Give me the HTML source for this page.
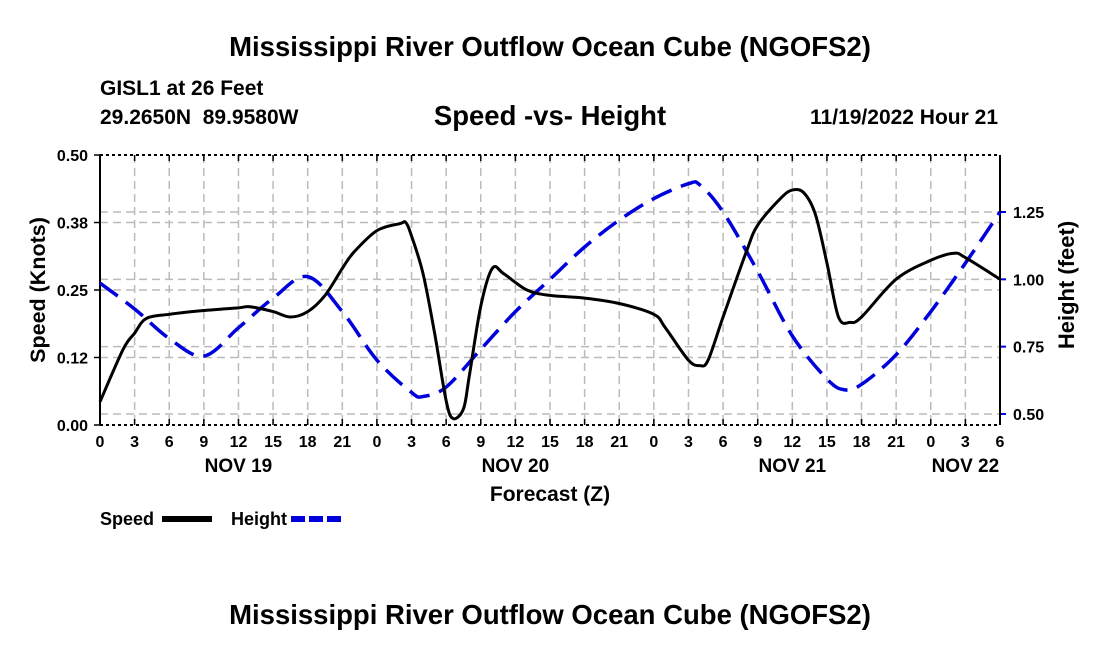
<!DOCTYPE html>
<html><head><meta charset="utf-8"><style>
body{margin:0;background:#fff}
svg{display:block;font-family:"Liberation Sans",Arial,sans-serif;font-weight:bold}
</style></head><body>
<svg id="chart" width="1100" height="650" viewBox="0 0 1100 650">
<text x="550" y="56" text-anchor="middle" font-size="27.5">Mississippi River Outflow Ocean Cube (NGOFS2)</text>
<text x="100" y="95" font-size="21">GISL1 at 26 Feet</text>
<text x="100" y="124" font-size="21" xml:space="preserve">29.2650N  89.9580W</text>
<text x="550" y="125" text-anchor="middle" font-size="27.5">Speed -vs- Height</text>
<text x="998" y="124" text-anchor="end" font-size="21">11/19/2022 Hour 21</text>
<g id="grid"></g>
<g id="axes"></g>
<g id="series"></g>
<text transform="translate(45,290) rotate(-90)" text-anchor="middle" font-size="21.5">Speed (Knots)</text>
<text transform="translate(1074,285) rotate(-90)" text-anchor="middle" font-size="22">Height (feet)</text>
<text x="550" y="501" text-anchor="middle" font-size="21">Forecast (Z)</text>
<g>
<text x="100" y="525" font-size="18">Speed</text>
<rect x="162" y="516" width="50" height="6" fill="#000"/>
<text x="231" y="525" font-size="18">Height</text>
<line x1="291" y1="519" x2="342" y2="519" stroke="#0000dd" stroke-width="6" stroke-dasharray="14,4"/>
</g>
<text x="550" y="624" text-anchor="middle" font-size="27.5">Mississippi River Outflow Ocean Cube (NGOFS2)</text>
</svg>
<script>
const speedHours=[0,2,3,4,6,9,12,13,15,16.5,18,19.5,21,22,24,26,26.5,27,28,29,30,30.6,31.5,32,33,34,35,37,39,42,45,48,49,51,52,52.7,54,56,57,59,60,61,62,63,64,65,66,69,72,74,75,78];
const speedValues=[0.043,0.14,0.17,0.197,0.205,0.212,0.217,0.219,0.21,0.2,0.21,0.24,0.29,0.32,0.36,0.373,0.375,0.35,0.28,0.17,0.045,0.012,0.03,0.09,0.22,0.29,0.28,0.25,0.24,0.235,0.225,0.205,0.18,0.12,0.11,0.12,0.2,0.32,0.37,0.42,0.435,0.43,0.39,0.3,0.2,0.19,0.2,0.27,0.305,0.318,0.31,0.27];
const heightHours=[0,3,6,9,12,15,18,21,24,27,28,30,33,36,39,42,45,48,51,52,54,57,60,63,64.5,66,69,72,75,78];
const heightValues=[0.986,0.89,0.78,0.715,0.82,0.93,1.01,0.88,0.7,0.58,0.565,0.6,0.74,0.88,1.0,1.12,1.22,1.3,1.355,1.35,1.25,1.03,0.79,0.63,0.59,0.61,0.72,0.88,1.06,1.25];
const xTickLabels=["0","3","6","9","12","15","18","21","0","3","6","9","12","15","18","21","0","3","6","9","12","15","18","21","0","3","6"];
const dayLabels=["NOV 19","NOV 20","NOV 21","NOV 22"];
const dayHours=[12,36,60,75];
const speedTicks=[0,0.125,0.25,0.375,0.5];
const speedTickLabels=["0.00","0.12","0.25","0.38","0.50"];
const heightTicks=[0.5,0.75,1.0,1.25];
const heightTickLabels=["0.50","0.75","1.00","1.25"];

const X0=100,X1=1000,YT=155,YB=425;
const xs=h=>X0+h*(X1-X0)/78;
const ys=v=>YB-v*(YB-YT)/0.5;
const yh=v=>212-(v-1.25)*269.3;
const NS="http://www.w3.org/2000/svg";
function mk(tag,attrs,parent){const e=document.createElementNS(NS,tag);for(const k in attrs)e.setAttribute(k,attrs[k]);parent.appendChild(e);return e;}
const grid=document.getElementById('grid'),axes=document.getElementById('axes'),series=document.getElementById('series');
const gs={stroke:"#bbb","stroke-width":1.5,"stroke-dasharray":"8,5",fill:"none"};
xTickLabels.forEach((l,i)=>{const x=xs(i*3);
 const g=mk('line',Object.assign({x1:x,x2:x,y1:YT,y2:YB},gs),grid);
 
 
 const t=mk('line',{x1:x,x2:x,y1:YB,y2:YB-6,stroke:"#000","stroke-width":1.5},axes);
 
 
 const t2=mk('line',{x1:x,x2:x,y1:YT,y2:YT+6,stroke:"#000","stroke-width":1.5},axes);
 
 
 const tx=mk('text',{x:x,y:YB+22,"text-anchor":"middle","font-size":16},axes);tx.textContent=l;
 
 
});
dayLabels.forEach((l,i)=>{const t=mk('text',{x:xs(dayHours[i]),y:YB+47,"text-anchor":"middle","font-size":19},axes);t.textContent=l;
 
 });
speedTicks.forEach((v,i)=>{const y=ys(v);
 if(v>0&&v<0.5){const g=mk('line',Object.assign({x1:X0,x2:X1,y1:y,y2:y},gs),grid);
  
  }
 const t=mk('line',{x1:X0-6,x2:X0,y1:y,y2:y,stroke:"#000","stroke-width":1.5},axes);
 
 
 const tx=mk('text',{x:X0-12,y:y+6,"text-anchor":"end","font-size":16},axes);tx.textContent=speedTickLabels[i];
 
 
});
heightTicks.forEach((v,i)=>{const y=yh(v);
 const g=mk('line',Object.assign({x1:X0,x2:X1,y1:y,y2:y},gs),grid);
 
 
 const t=mk('line',{x1:X1,x2:X1+6,y1:y,y2:y,stroke:"#0000dd","stroke-width":2},axes);
 
 
 const tx=mk('text',{x:X1+13,y:y+6,"font-size":16},axes);tx.textContent=heightTickLabels[i];
 
 
});
[[X0,YT,X1,YT,"3,3"],[X0,YB,X1,YB,"3,3"]].forEach(a=>{const l=mk('line',{x1:a[0],y1:a[1],x2:a[2],y2:a[3],stroke:"#000","stroke-width":2,"stroke-dasharray":a[4]},axes);
 
 });
[X0,X1].forEach(x=>{const l=mk('line',{x1:x,y1:YT,x2:x,y2:YB,stroke:"#000","stroke-width":2},axes);
 
 });
function smooth(pts){let d=`M${pts[0][0]},${pts[0][1]}`;
 for(let i=0;i<pts.length-1;i++){const p0=pts[Math.max(0,i-1)],p1=pts[i],p2=pts[i+1],p3=pts[Math.min(pts.length-1,i+2)];
  const c1=[p1[0]+(p2[0]-p0[0])/6,p1[1]+(p2[1]-p0[1])/6],c2=[p2[0]-(p3[0]-p1[0])/6,p2[1]-(p3[1]-p1[1])/6];
  d+=` C${c1[0]},${c1[1]} ${c2[0]},${c2[1]} ${p2[0]},${p2[1]}`;}
 return d;}
const hp=mk('path',{d:smooth(heightHours.map((h,i)=>[xs(h),yh(heightValues[i])])),fill:"none",stroke:"#0000dd","stroke-width":3.5,"stroke-dasharray":"22,10"},series);


const sp=mk('path',{d:smooth(speedHours.map((h,i)=>[xs(h),ys(speedValues[i])])),fill:"none",stroke:"#000","stroke-width":3},series);


</script>
</body></html>
